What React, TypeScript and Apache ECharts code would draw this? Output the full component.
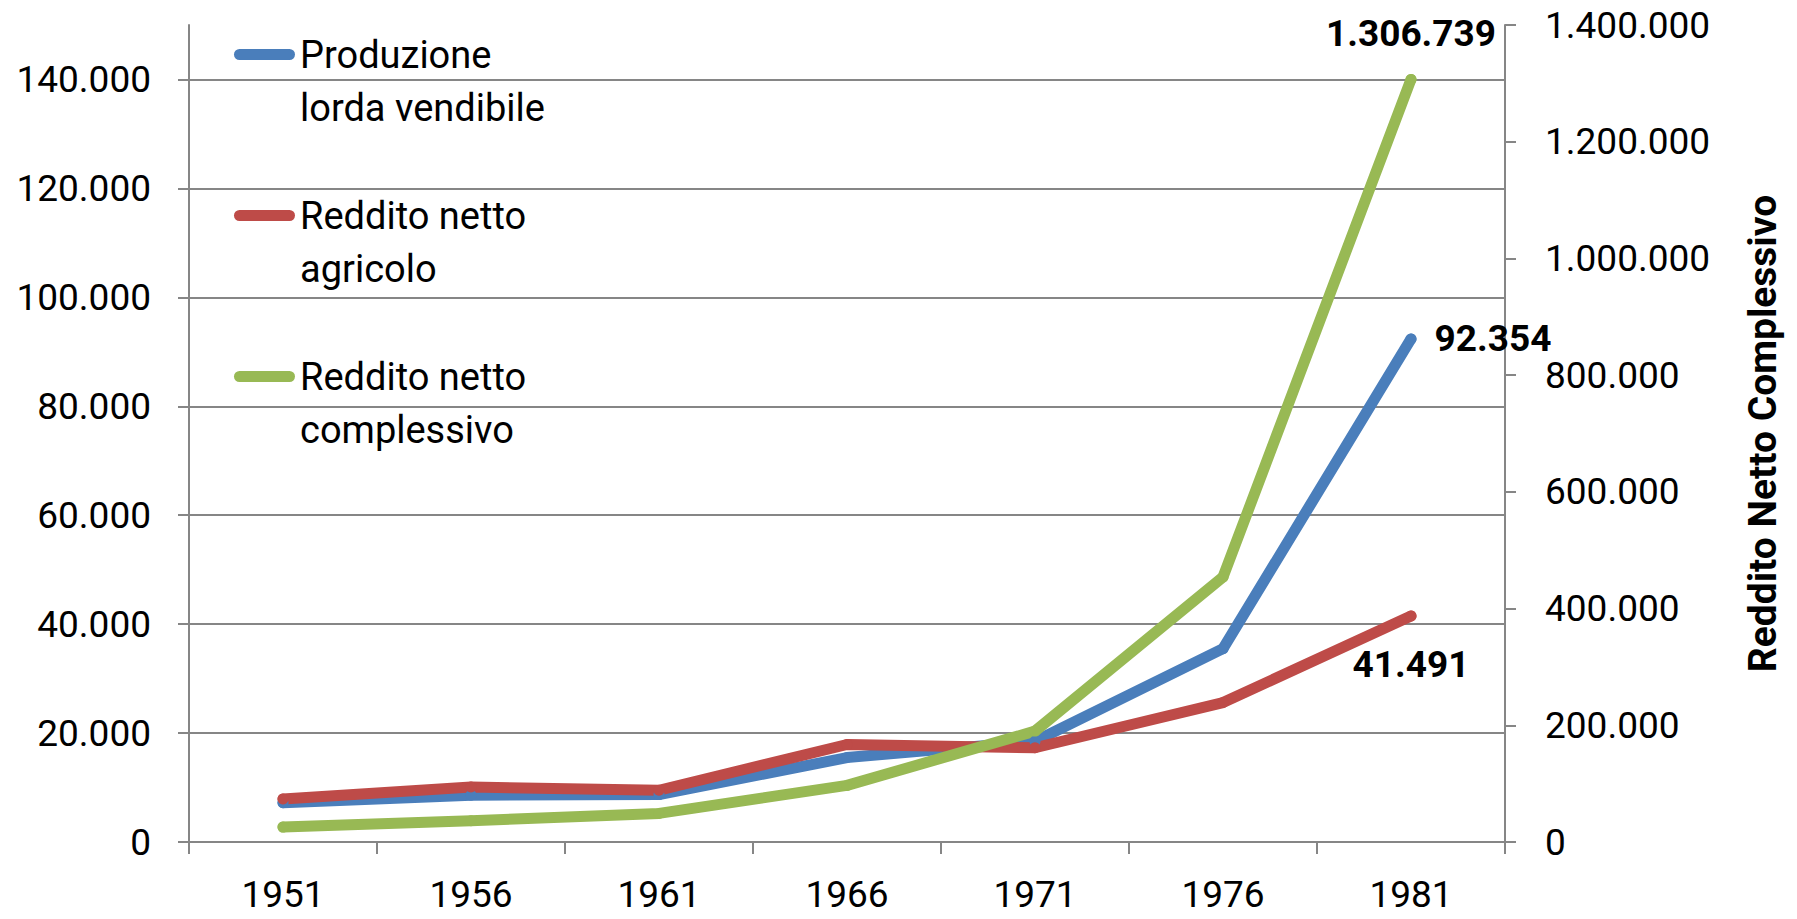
import React, { useEffect, useRef } from 'react';
import * as echarts from 'echarts';

const years = ['1951', '1956', '1961', '1966', '1971', '1976', '1981'];
const produzioneLorda = [7200, 8600, 8700, 15500, 18500, 35500, 92354];
const redditoAgricolo = [7900, 10100, 9500, 17900, 17300, 25600, 41491];
const redditoComplessivo = [25500, 36500, 49000, 97000, 190000, 454000, 1306739];

const seriesNames = ['Produzione lorda vendibile', 'Reddito netto agricolo', 'Reddito netto complessivo'];
const legendLabels = ['Produzione\nlorda vendibile', 'Reddito netto\nagricolo', 'Reddito netto\ncomplessivo'];
const colors = ['#4A7EBB', '#BE4B48', '#98B954'];

const leftTicks = [0, 20000, 40000, 60000, 80000, 100000, 120000, 140000];
const leftMax = 150000;
const rightTicks = [0, 200000, 400000, 600000, 800000, 1000000, 1200000, 1400000];
const rightAxisTitle = 'Reddito Netto Complessivo';

const FONT = 'Roboto, sans-serif';

function fmt(v: number): string {
  return String(Math.round(v)).replace(/\B(?=(\d{3})+(?!\d))/g, '.');
}

function withLastLabel(values: number[], label: any) {
  return values.map((v, i) =>
    i === values.length - 1 ? { value: v, label: { show: true, ...label } } : v
  );
}

const labelBase = {
  fontFamily: FONT,
  fontSize: 37,
  fontWeight: 'bold',
  color: '#000',
  formatter: (p: any) => fmt(p.value),
};

export default function App() {
  const ref = useRef<HTMLDivElement>(null);
  useEffect(() => {
    document.body.style.margin = '0';
    if (!ref.current) return;
    const chart = echarts.init(ref.current, null, { renderer: 'svg' });
    const axisColor = '#868686';
    const icon = 'path://M5.5,0 L55.5,0 A5.5,5.5 0 0 1 55.5,11 L5.5,11 A5.5,5.5 0 0 1 5.5,0 Z';
    chart.setOption({
      animation: false,
      backgroundColor: '#fff',
      textStyle: { fontFamily: FONT },
      grid: { left: 189, right: 292, top: 25, bottom: 77, containLabel: false },
      legend: {
        orient: 'vertical',
        left: 229,
        top: -30,
        itemWidth: 61,
        itemHeight: 11,
        itemGap: 2,
        icon,
        selectedMode: false,
        data: seriesNames,
        formatter: (name: string) => '\n' + legendLabels[seriesNames.indexOf(name)],
        textStyle: {
          fontFamily: FONT,
          fontSize: 38,
          lineHeight: 53,
          color: '#000',
        },
      },
      xAxis: {
        type: 'category',
        data: years,
        boundaryGap: true,
        axisLine: { lineStyle: { color: axisColor, width: 2 } },
        axisTick: { show: true, interval: 0, length: 12, lineStyle: { color: axisColor, width: 2 } },
        axisLabel: { fontFamily: FONT, fontSize: 37, color: '#000', margin: 34, interval: 0 },
        splitLine: { show: false },
      },
      yAxis: [
        {
          type: 'value',
          min: 0,
          max: leftMax,
          interval: 20000,
          position: 'left',
          axisLine: { show: true, lineStyle: { color: axisColor, width: 2 } },
          axisTick: { show: true, length: 11, customValues: leftTicks, lineStyle: { color: axisColor, width: 2 } },
          axisLabel: {
            fontFamily: FONT,
            fontSize: 37,
            color: '#000',
            margin: 38,
            customValues: leftTicks,
            formatter: (v: number) => fmt(v),
          },
          splitLine: { show: true, lineStyle: { color: axisColor, width: 2 } },
        },
        {
          type: 'value',
          min: 0,
          max: rightTicks[rightTicks.length - 1],
          interval: 200000,
          position: 'right',
          name: rightAxisTitle,
          nameLocation: 'middle',
          nameRotate: 90,
          nameGap: 238,
          nameTextStyle: { fontFamily: FONT, fontSize: 39, fontWeight: 'bold', color: '#000' },
          axisLine: { show: true, lineStyle: { color: axisColor, width: 2 } },
          axisTick: { show: true, length: 11, lineStyle: { color: axisColor, width: 2 } },
          axisLabel: {
            fontFamily: FONT,
            fontSize: 37,
            color: '#000',
            margin: 40,
            formatter: (v: number) => fmt(v),
          },
          splitLine: { show: false },
        },
      ],
      series: [
        {
          name: seriesNames[0],
          type: 'line',
          yAxisIndex: 0,
          data: withLastLabel(produzioneLorda, { ...labelBase, position: 'right', distance: 18 }),
          symbol: 'circle',
          symbolSize: 11,
          showSymbol: true,
          color: colors[0],
          itemStyle: { color: colors[0] },
          lineStyle: { color: colors[0], width: 11, cap: 'round', join: 'round' },
        },
        {
          name: seriesNames[1],
          type: 'line',
          yAxisIndex: 0,
          data: withLastLabel(redditoAgricolo, { ...labelBase, position: 'bottom', distance: 24 }),
          symbol: 'circle',
          symbolSize: 11,
          showSymbol: true,
          color: colors[1],
          itemStyle: { color: colors[1] },
          lineStyle: { color: colors[1], width: 11, cap: 'round', join: 'round' },
        },
        {
          name: seriesNames[2],
          type: 'line',
          yAxisIndex: 1,
          data: withLastLabel(redditoComplessivo, { ...labelBase, position: 'top', distance: 22 }),
          symbol: 'circle',
          symbolSize: 11,
          showSymbol: true,
          color: colors[2],
          itemStyle: { color: colors[2] },
          lineStyle: { color: colors[2], width: 11, cap: 'round', join: 'round' },
        },
      ],
    });
    return () => chart.dispose();
  }, []);
  return <div ref={ref} style={{ width: 1797, height: 919 }} />;
}
